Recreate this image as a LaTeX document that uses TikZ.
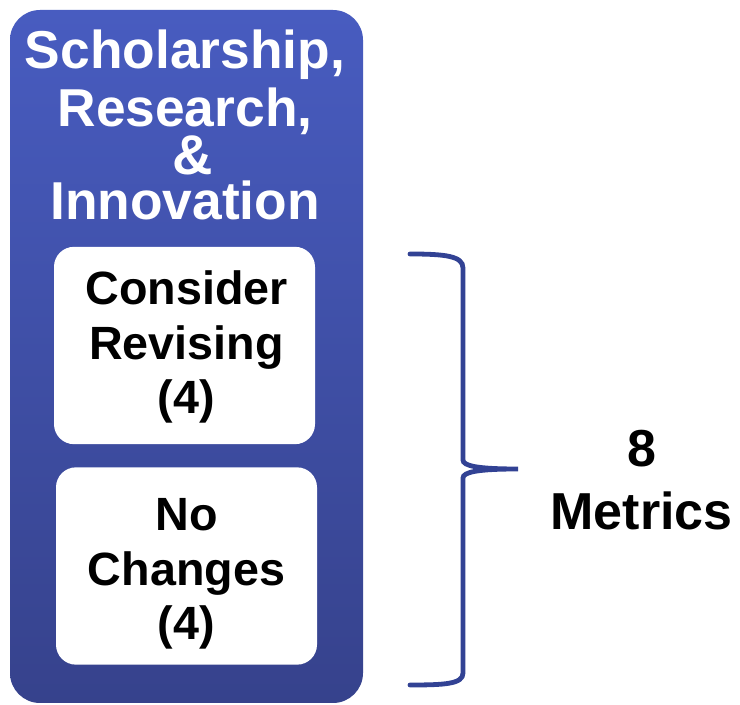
\documentclass[tikz,border=0pt]{standalone}
\usepackage{fontspec}
\setmainfont{Liberation Sans}
\usetikzlibrary{positioning}
\definecolor{pillartop}{RGB}{72,92,192}
\definecolor{pillarbottom}{RGB}{54,66,140}
\definecolor{bracecol}{RGB}{50,66,148}
\tikzset{
  pillar/.style={rounded corners=22.5pt, top color=pillartop, bottom color=pillarbottom,
    minimum width=264.75pt, minimum height=519.75pt, inner sep=0pt},
  panel/.style={rounded corners=15pt, fill=white, minimum width=195.75pt,
    minimum height=148pt, inner sep=0pt},
  paneltext/.style={align=center, inner sep=0pt, font=\bfseries\fontsize{35}{41}\selectfont},
}
\begin{document}
\begin{tikzpicture}[x=0.75pt,y=0.75pt,yscale=-1,xscale=1]
        \useasboundingbox (0,0) rectangle (740,705);

        % column
        \node [pillar] (pillar) at (186.5,356.5) {};
        \node [align=center, inner sep=0pt, text=white, font=\bfseries\fontsize{40}{34}\selectfont] (title) at (185,125)
          {Scholarship,\\[5pt] Research,\\ {\fontsize{42}{34}\selectfont\ \&}\\ Innovation};

        % panels
        \node [panel] (revise) at (184.5,345.5) {};
        \node [paneltext] (revisetext) at (186.5,347) {Consider\\ Revising\\ (4)};
        \node [panel] (keep) at (186.5,566) {};
        \node [paneltext] (keeptext) at ([yshift=6pt]keep.center) {No\\ Changes\\ (4)};

        % brace
        \coordinate (top) at (410,254);
        \coordinate (tip) at (518,469);
        \coordinate (bottom) at (410,685);
        \draw [bracecol, line width=3.6pt, line cap=round]
          (top) .. controls (445,254) and (463,256) .. (463,268) -- (463,460)
          .. controls (463,466) and (478,469) .. (tip)
          .. controls (478,469) and (463,472) .. (463,478) -- (463,673)
          .. controls (463,684) and (445,685) .. (bottom);

        % Text Node
        \node [align=center, inner sep=0pt, font=\bfseries\fontsize{39}{47}\selectfont] (metrics) at (641.5,480) {8\\ Metrics};
\end{tikzpicture}
\end{document}
